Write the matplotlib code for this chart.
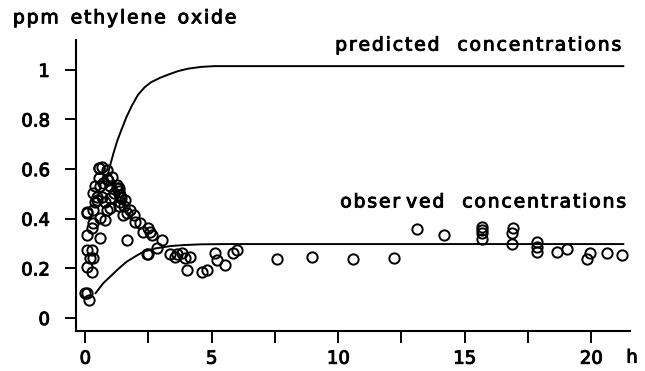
import numpy as np
import matplotlib.pyplot as plt
import matplotlib.patheffects as pe
from matplotlib.ticker import FixedLocator

# predicted curves (hours, ppm)
pred_hi_t = [0.82, 0.99, 1.12, 1.27, 1.43, 1.63, 1.84, 2.09, 2.35, 2.6, 2.96, 3.26, 3.67, 4.08, 4.59, 5.1, 21.27]
pred_hi_c = [0.55, 0.617, 0.665, 0.715, 0.758, 0.81, 0.855, 0.90, 0.93, 0.95, 0.968, 0.98, 0.995, 1.005, 1.012, 1.015, 1.015]

pred_lo_t = [0.41, 0.71, 0.99, 1.33, 1.64, 2.04, 2.3, 2.75, 3.37, 3.88, 4.59, 5.61, 21.27]
pred_lo_c = [0.10, 0.14, 0.167, 0.20, 0.227, 0.252, 0.267, 0.280, 0.290, 0.294, 0.297, 0.298, 0.298]

# observed concentrations
obs_t = [0.0, 0.13, 0.09, 0.06, 0.06, 0.06, 0.06, 0.09, 0.2, 0.26, 0.26, 0.3, 0.26,
         0.32, 0.32, 0.32, 0.4, 0.46, 0.46, 0.4, 0.53, 0.53, 0.55, 0.59, 0.59, 0.59,
         0.66, 0.66, 0.72, 0.8, 0.8, 0.86, 0.86, 0.86, 0.92, 0.99, 0.99, 0.99, 1.05,
         1.12, 1.25, 1.27, 1.32, 1.32, 1.32, 1.39, 1.39, 1.41, 1.51, 1.54, 1.58, 1.64,
         1.67, 1.77, 1.91, 1.98, 2.17, 2.3, 2.44, 2.5, 2.5, 2.57, 2.63, 2.84, 3.03,
         3.36, 3.56, 3.62, 3.82, 3.96, 4.02, 4.15, 4.61, 4.81, 5.14, 5.2, 5.54, 5.86,
         6.0, 7.58, 8.96, 10.58, 12.22, 13.13, 14.17, 15.67, 15.67, 15.67, 15.67,
         16.91, 16.87, 16.87, 17.85, 17.85, 17.85, 18.64, 19.04, 19.82, 19.96, 20.62, 21.21]
obs_c = [0.10, 0.073, 0.10, 0.429, 0.335, 0.274, 0.207, 0.422, 0.24, 0.187, 0.274, 0.24, 0.362,
         0.382, 0.435, 0.503, 0.469, 0.489, 0.476, 0.53, 0.604, 0.563, 0.604, 0.53, 0.402, 0.321,
         0.61, 0.489, 0.543, 0.395, 0.469, 0.597, 0.435, 0.56, 0.556, 0.53, 0.442, 0.483, 0.57,
         0.503, 0.536, 0.523, 0.51, 0.45, 0.523, 0.469, 0.496, 0.483, 0.415, 0.45, 0.476, 0.314,
         0.422, 0.435, 0.415, 0.388, 0.382, 0.348, 0.26, 0.362, 0.26, 0.348, 0.335, 0.281, 0.314,
         0.26, 0.247, 0.26, 0.261, 0.24, 0.194, 0.247, 0.187, 0.194, 0.261, 0.234, 0.214, 0.261,
         0.274, 0.237, 0.247, 0.238, 0.24, 0.357, 0.335, 0.368, 0.355, 0.341, 0.317,
         0.362, 0.341, 0.30, 0.308, 0.288, 0.267, 0.267, 0.277, 0.237, 0.261, 0.261, 0.254]

x_major = [0, 5, 10, 15, 20]
x_minor = [2.5, 7.5, 12.5, 17.5]
y_ticks = [0, 0.2, 0.4, 0.6, 0.8, 1.0]
y_labels = ["0", "0.2", "0.4", "0.6", "0.8", "1"]


def spaced(s):
    # open up the letter spacing a little with hair spaces
    return '\u200a'.join(s)


# slightly heavier strokes for all lettering
heavy = [pe.withStroke(linewidth=0.7, foreground='black')]

plt.rcParams['font.family'] = 'DejaVu Sans'
fig = plt.figure(figsize=(6.45, 3.71), dpi=100)
ax = fig.add_axes([0.118, 0.108, 0.859, 0.784])

ax.plot(pred_hi_t, pred_hi_c, color='black', lw=1.4, zorder=2)
ax.plot(pred_lo_t, pred_lo_c, color='black', lw=1.4, zorder=2)
ax.plot(obs_t, obs_c, linestyle='none', marker='o', ms=7.4, mfc='none',
        mec='black', mew=1.4, zorder=3)

ax.set_xlim(-0.36, 21.54)
ax.set_ylim(-0.052, 1.12)
for side in ('top', 'right'):
    ax.spines[side].set_visible(False)
for side in ('left', 'bottom'):
    ax.spines[side].set_linewidth(1.5)

ax.xaxis.set_major_locator(FixedLocator(x_major))
ax.xaxis.set_minor_locator(FixedLocator(x_minor))
ax.set_xticklabels([str(v) for v in x_major])
ax.set_yticks(y_ticks)
ax.set_yticklabels(y_labels)
ax.tick_params(axis='x', which='both', direction='out', length=8.5, width=1.4, pad=5, labelsize=13)
ax.tick_params(axis='y', direction='out', length=8, width=1.4, pad=11, labelsize=13)
for lab in ax.get_xticklabels() + ax.get_yticklabels():
    lab.set_path_effects(heavy)

texts = [
    fig.text(632 / 645, 0.036, 'h', fontsize=13, ha='center', va='center'),
    fig.text(0.02, 0.952, spaced('ppm') + '  ' + spaced('ethylene') + '  ' + spaced('oxide'),
             fontsize=13.5, ha='left', va='center'),
    ax.text(9.88, 1.10, spaced('predicted') + '   ' + spaced('concentrations'),
            fontsize=13.5, ha='left', va='center'),
    ax.text(10.08, 0.468, spaced('obser') + ' ' + spaced('ved') + '   ' + spaced('concentrations'),
            fontsize=13.5, ha='left', va='center'),
]
for t in texts:
    t.set_path_effects(heavy)

fig.savefig('out.png', dpi=100)
